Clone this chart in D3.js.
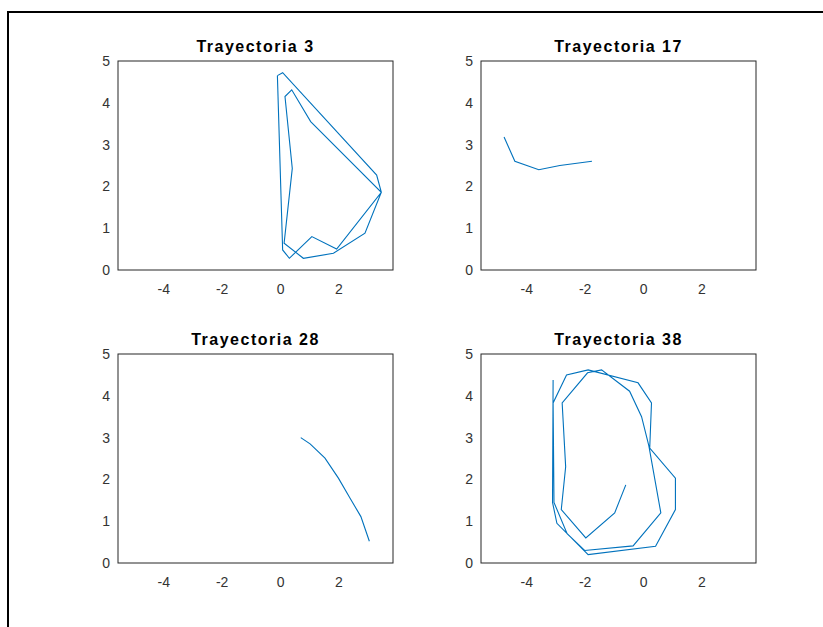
<!DOCTYPE html>
<html>
<head>
<meta charset="utf-8">
<script src="https://cdn.jsdelivr.net/npm/d3@7"></script>
<style>
  html, body { margin: 0; padding: 0; background: #fff; }
  svg { display: block; }
</style>
</head>
<body>
<svg id="chart" width="823" height="627"></svg>
<script>
// ---- data ----
const titles = ["Trayectoria 3", "Trayectoria 17", "Trayectoria 28", "Trayectoria 38"];
const xTicks = [-4, -2, 0, 2];
const yTicks = [0, 1, 2, 3, 4, 5];
const xDomain = [-5.55, 3.87];
const yDomain = [0, 5];

const traj3X = [-0.09, 0.09, 3.31, 3.47, 2.91, 1.83, 0.80, 0.14, 0.42, 0.17, 0.40, 1.05, 3.47, 1.94, 1.09, 0.32, 0.09, -0.09];
const traj3Y = [4.65, 4.72, 2.27, 1.86, 0.88, 0.40, 0.28, 0.64, 2.43, 4.15, 4.31, 3.55, 1.86, 0.50, 0.80, 0.28, 0.48, 4.65];

const traj17X = [-4.76, -4.39, -3.57, -2.85, -1.75];
const traj17Y = [3.18, 2.60, 2.40, 2.50, 2.60];

const traj28X = [0.71, 1.03, 1.54, 2.00, 2.40, 2.77, 3.06];
const traj28Y = [3.00, 2.85, 2.51, 2.03, 1.55, 1.11, 0.52];

const traj38X = [-3.08, -3.10, -2.95, -1.88, 0.43, 1.11, 1.11, 0.23, 0.29, -0.17, -1.88, -2.62, -3.08, -3.05, -2.60, -2.00, -0.34, 0.61, 0.20, -0.05, -0.46, -1.42, -1.90, -2.77, -2.65, -2.80, -1.96, -0.97, -0.59];
const traj38Y = [4.38, 1.45, 0.95, 0.20, 0.40, 1.28, 2.03, 2.75, 3.83, 4.31, 4.62, 4.50, 3.83, 1.45, 0.70, 0.30, 0.41, 1.20, 2.80, 3.50, 4.11, 4.62, 4.55, 3.83, 2.30, 1.28, 0.60, 1.20, 1.87];

const series = [
  [traj3X, traj3Y],
  [traj17X, traj17Y],
  [traj28X, traj28Y],
  [traj38X, traj38Y]
];

// ---- layout ----
const panels = [
  {left: 118, top: 61},
  {left: 481, top: 61},
  {left: 118, top: 354},
  {left: 481, top: 354}
];
const pw = 275, ph = 209;
const font = "'Liberation Sans', Arial, sans-serif";
const svg = d3.select("#chart");

// outer figure border
svg.append("rect")
  .attr("x", 8).attr("y", 12)
  .attr("width", 830).attr("height", 640)
  .attr("fill", "none").attr("stroke", "#000").attr("stroke-width", 2);

panels.forEach((p, i) => {
  const g = svg.append("g").attr("transform", `translate(${p.left},${p.top})`);
  const x = d3.scaleLinear().domain(xDomain).range([0, pw]);
  const y = d3.scaleLinear().domain(yDomain).range([ph, 0]);

  const xAxis = g.append("g").attr("transform", `translate(0,${ph})`)
    .call(d3.axisBottom(x).tickValues(xTicks).tickSize(0).tickPadding(14).tickFormat(d => String(d)));
  const yAxis = g.append("g")
    .call(d3.axisLeft(y).tickValues(yTicks).tickSize(0).tickPadding(8).tickFormat(d => String(d)));
  [xAxis, yAxis].forEach(a => {
    a.select(".domain").remove();
    a.selectAll("text").attr("fill", "#333").style("font-family", font).style("font-size", "14px");
  });

  const [xs, ys] = series[i];
  const pts = xs.map((v, k) => [v, ys[k]]);
  g.append("path")
    .datum(pts)
    .attr("fill", "none")
    .attr("stroke", "#0072BD")
    .attr("stroke-width", 1.1)
    .attr("stroke-linejoin", "miter")
    .attr("d", d3.line().x(d => x(d[0])).y(d => y(d[1])));

  g.append("rect")
    .attr("x", 0).attr("y", 0).attr("width", pw).attr("height", ph)
    .attr("fill", "none").attr("stroke", "#262626").attr("stroke-width", 1);

  g.append("text")
    .attr("x", pw / 2).attr("y", -9)
    .attr("text-anchor", "middle")
    .attr("fill", "#000")
    .style("font-family", font).style("font-size", "16px").style("font-weight", "bold")
    .style("letter-spacing", "1.5px")
    .text(titles[i]);
});
</script>
</body>
</html>
